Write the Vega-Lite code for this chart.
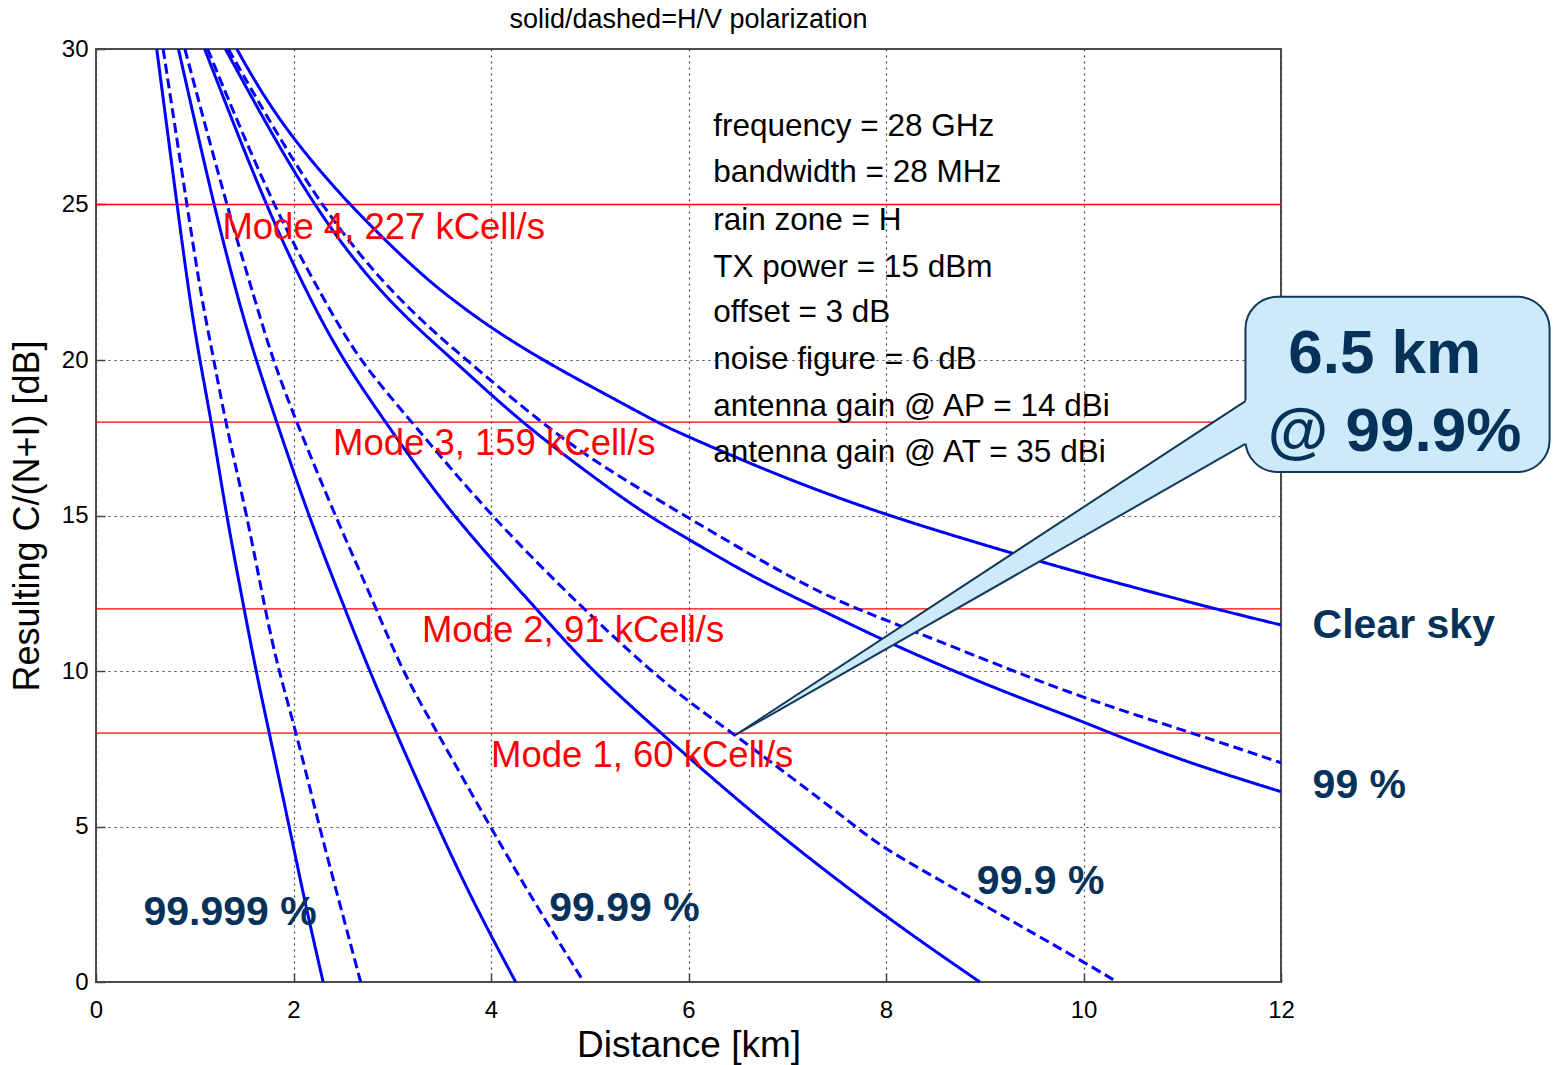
{
  "$schema": "https://vega.github.io/schema/vega-lite/v6.json",
  "width": 1185,
  "height": 933,
  "autosize": {"type": "none"},
  "padding": {"left": 96, "top": 49, "right": 278, "bottom": 83},
  "background": "#ffffff",
  "config": {"view": {"stroke": "#4d4d4d", "strokeWidth": 2}, "font": "Liberation Sans"},
  "title": {"text": "solid/dashed=H/V polarization", "font": "Liberation Sans", "fontSize": 27, "fontWeight": "normal", "color": "#000000", "offset": 3, "anchor": "middle"},
  "datasets": {
    "curves": [
      {"s": "clear", "p": "H", "x": 1.425, "y": 30}, {"s": "clear", "p": "H", "x": 1.66, "y": 28.68}, {"s": "clear", "p": "H", "x": 1.995, "y": 27.1}, {"s": "clear", "p": "H", "x": 2.555, "y": 25}, {"s": "clear", "p": "H", "x": 3.28, "y": 22.77}, {"s": "clear", "p": "H", "x": 3.62, "y": 21.92}, {"s": "clear", "p": "H", "x": 3.99, "y": 21.05}, {"s": "clear", "p": "H", "x": 4.53, "y": 19.98}, {"s": "clear", "p": "H", "x": 5.10, "y": 19.0}, {"s": "clear", "p": "H", "x": 5.70, "y": 17.97}, {"s": "clear", "p": "H", "x": 5.91, "y": 17.65}, {"s": "clear", "p": "H", "x": 6.93, "y": 16.25}, {"s": "clear", "p": "H", "x": 7.94, "y": 15.07}, {"s": "clear", "p": "H", "x": 9.05, "y": 14.0}, {"s": "clear", "p": "H", "x": 9.96, "y": 13.15}, {"s": "clear", "p": "H", "x": 11.35, "y": 11.98}, {"s": "clear", "p": "H", "x": 12, "y": 11.48},
      {"s": "99H", "p": "H", "x": 1.31, "y": 30}, {"s": "99H", "p": "H", "x": 2.17, "y": 25}, {"s": "99H", "p": "H", "x": 2.93, "y": 21.93}, {"s": "99H", "p": "H", "x": 3.62, "y": 20}, {"s": "99H", "p": "H", "x": 4.3, "y": 18}, {"s": "99H", "p": "H", "x": 5.1, "y": 16.09}, {"s": "99H", "p": "H", "x": 5.56, "y": 15.05}, {"s": "99H", "p": "H", "x": 6.02, "y": 14.2}, {"s": "99H", "p": "H", "x": 6.69, "y": 12.95}, {"s": "99H", "p": "H", "x": 7.32, "y": 12}, {"s": "99H", "p": "H", "x": 8.0, "y": 10.94}, {"s": "99H", "p": "H", "x": 9.05, "y": 9.5}, {"s": "99H", "p": "H", "x": 10.0, "y": 8.37}, {"s": "99H", "p": "H", "x": 10.27, "y": 8}, {"s": "99H", "p": "H", "x": 11.08, "y": 7.03}, {"s": "99H", "p": "H", "x": 12, "y": 6.12},
      {"s": "99V", "p": "V", "x": 1.34, "y": 30}, {"s": "99V", "p": "V", "x": 2.24, "y": 25}, {"s": "99V", "p": "V", "x": 3.05, "y": 21.93}, {"s": "99V", "p": "V", "x": 3.75, "y": 20}, {"s": "99V", "p": "V", "x": 4.5, "y": 18}, {"s": "99V", "p": "V", "x": 5.1, "y": 16.62}, {"s": "99V", "p": "V", "x": 5.96, "y": 15}, {"s": "99V", "p": "V", "x": 7.06, "y": 12.93}, {"s": "99V", "p": "V", "x": 7.70, "y": 12}, {"s": "99V", "p": "V", "x": 8.0, "y": 11.64}, {"s": "99V", "p": "V", "x": 9.05, "y": 10.3}, {"s": "99V", "p": "V", "x": 10.0, "y": 9.12}, {"s": "99V", "p": "V", "x": 11.11, "y": 8}, {"s": "99V", "p": "V", "x": 12, "y": 7.05},
      {"s": "999H", "p": "H", "x": 1.10, "y": 30}, {"s": "999H", "p": "H", "x": 1.71, "y": 25}, {"s": "999H", "p": "H", "x": 2.17, "y": 21.93}, {"s": "999H", "p": "H", "x": 2.50, "y": 20}, {"s": "999H", "p": "H", "x": 2.93, "y": 18}, {"s": "999H", "p": "H", "x": 3.60, "y": 15}, {"s": "999H", "p": "H", "x": 4.46, "y": 12}, {"s": "999H", "p": "H", "x": 5.02, "y": 10}, {"s": "999H", "p": "H", "x": 5.72, "y": 8}, {"s": "999H", "p": "H", "x": 6.80, "y": 5}, {"s": "999H", "p": "H", "x": 7.99, "y": 2.1}, {"s": "999H", "p": "H", "x": 8.95, "y": 0},
      {"s": "999V", "p": "V", "x": 1.13, "y": 30}, {"s": "999V", "p": "V", "x": 1.78, "y": 25}, {"s": "999V", "p": "V", "x": 2.31, "y": 21.93}, {"s": "999V", "p": "V", "x": 2.66, "y": 20}, {"s": "999V", "p": "V", "x": 3.20, "y": 18}, {"s": "999V", "p": "V", "x": 3.99, "y": 15}, {"s": "999V", "p": "V", "x": 4.93, "y": 12}, {"s": "999V", "p": "V", "x": 5.62, "y": 10}, {"s": "999V", "p": "V", "x": 6.02, "y": 8.96}, {"s": "999V", "p": "V", "x": 6.45, "y": 8}, {"s": "999V", "p": "V", "x": 7.70, "y": 5}, {"s": "999V", "p": "V", "x": 7.94, "y": 4.35}, {"s": "999V", "p": "V", "x": 9.05, "y": 2.37}, {"s": "999V", "p": "V", "x": 10.0, "y": 0.65}, {"s": "999V", "p": "V", "x": 10.34, "y": 0},
      {"s": "9999H", "p": "H", "x": 0.835, "y": 30}, {"s": "9999H", "p": "H", "x": 1.19, "y": 25}, {"s": "9999H", "p": "H", "x": 1.44, "y": 21.93}, {"s": "9999H", "p": "H", "x": 1.62, "y": 20}, {"s": "9999H", "p": "H", "x": 1.83, "y": 18}, {"s": "9999H", "p": "H", "x": 2.15, "y": 15}, {"s": "9999H", "p": "H", "x": 2.52, "y": 12}, {"s": "9999H", "p": "H", "x": 2.77, "y": 10}, {"s": "9999H", "p": "H", "x": 3.04, "y": 8}, {"s": "9999H", "p": "H", "x": 3.46, "y": 5}, {"s": "9999H", "p": "H", "x": 3.83, "y": 2.5}, {"s": "9999H", "p": "H", "x": 4.25, "y": 0},
      {"s": "9999V", "p": "V", "x": 0.90, "y": 30}, {"s": "9999V", "p": "V", "x": 1.32, "y": 25}, {"s": "9999V", "p": "V", "x": 1.61, "y": 21.93}, {"s": "9999V", "p": "V", "x": 1.79, "y": 20}, {"s": "9999V", "p": "V", "x": 2.03, "y": 18}, {"s": "9999V", "p": "V", "x": 2.42, "y": 15}, {"s": "9999V", "p": "V", "x": 2.84, "y": 12}, {"s": "9999V", "p": "V", "x": 3.10, "y": 10}, {"s": "9999V", "p": "V", "x": 3.46, "y": 8}, {"s": "9999V", "p": "V", "x": 3.99, "y": 5}, {"s": "9999V", "p": "V", "x": 4.45, "y": 2.5}, {"s": "9999V", "p": "V", "x": 4.94, "y": 0},
      {"s": "99999H", "p": "H", "x": 0.615, "y": 30}, {"s": "99999H", "p": "H", "x": 0.82, "y": 25}, {"s": "99999H", "p": "H", "x": 0.95, "y": 21.93}, {"s": "99999H", "p": "H", "x": 1.05, "y": 20}, {"s": "99999H", "p": "H", "x": 1.17, "y": 18}, {"s": "99999H", "p": "H", "x": 1.32, "y": 15}, {"s": "99999H", "p": "H", "x": 1.50, "y": 12}, {"s": "99999H", "p": "H", "x": 1.62, "y": 10}, {"s": "99999H", "p": "H", "x": 1.755, "y": 8}, {"s": "99999H", "p": "H", "x": 1.957, "y": 5}, {"s": "99999H", "p": "H", "x": 2.12, "y": 2.5}, {"s": "99999H", "p": "H", "x": 2.30, "y": 0},
      {"s": "99999V", "p": "V", "x": 0.68, "y": 30}, {"s": "99999V", "p": "V", "x": 0.92, "y": 25}, {"s": "99999V", "p": "V", "x": 1.07, "y": 21.93}, {"s": "99999V", "p": "V", "x": 1.195, "y": 20}, {"s": "99999V", "p": "V", "x": 1.31, "y": 18}, {"s": "99999V", "p": "V", "x": 1.53, "y": 15}, {"s": "99999V", "p": "V", "x": 1.71, "y": 12}, {"s": "99999V", "p": "V", "x": 1.85, "y": 10}, {"s": "99999V", "p": "V", "x": 2.03, "y": 8}, {"s": "99999V", "p": "V", "x": 2.26, "y": 5}, {"s": "99999V", "p": "V", "x": 2.47, "y": 2.5}, {"s": "99999V", "p": "V", "x": 2.68, "y": 0}
    ],
    "modes": [{"y": 25}, {"y": 18}, {"y": 12}, {"y": 8}],
    "modeText": [
      {"x": 1.28, "y": 24.24, "t": "Mode 4, 227 kCell/s"},
      {"x": 2.40, "y": 17.3, "t": "Mode 3, 159 kCell/s"},
      {"x": 3.30, "y": 11.29, "t": "Mode 2, 91 kCell/s"},
      {"x": 4.00, "y": 7.28, "t": "Mode 1, 60 kCell/s"}
    ],
    "params": [
      {"x": 6.25, "y": 27.48, "t": "frequency = 28 GHz"},
      {"x": 6.25, "y": 26.0, "t": "bandwidth = 28 MHz"},
      {"x": 6.25, "y": 24.48, "t": "rain zone = H"},
      {"x": 6.25, "y": 22.97, "t": "TX power = 15 dBm"},
      {"x": 6.25, "y": 21.5, "t": "offset = 3 dB"},
      {"x": 6.25, "y": 20.0, "t": "noise figure = 6 dB"},
      {"x": 6.25, "y": 18.5, "t": "antenna gain @ AP = 14 dBi"},
      {"x": 6.25, "y": 17.0, "t": "antenna gain @ AT = 35 dBi"}
    ],
    "labels": [
      {"x": 0.48, "y": 2.23, "t": "99.999 %"},
      {"x": 4.59, "y": 2.35, "t": "99.99 %"},
      {"x": 8.92, "y": 3.22, "t": "99.9 %"},
      {"x": 12.32, "y": 11.45, "t": "Clear sky"},
      {"x": 12.32, "y": 6.3, "t": "99 %"}
    ],
    "box": [{"x": 11.64, "x2": 14.72, "y": 22.03, "y2": 16.40}],
    "wedge": [{"x": 6.48, "y": 7.95, "y2": 7.95}, {"x": 11.78, "y": 18.97, "y2": 17.55}],
    "edges": [{"x": 6.48, "y": 7.95, "x2": 11.64, "y2": 18.68}, {"x": 6.48, "y": 7.95, "x2": 11.64, "y2": 17.30}],
    "callText": [{"x": 13.05, "y": 20.2, "t": "6.5 km"}, {"x": 13.15, "y": 17.7, "t": "@ 99.9%"}]
  },
  "layer": [
    {
      "data": {"name": "modes"},
      "mark": {"type": "rule", "color": "#ff0000", "strokeWidth": 1.3},
      "encoding": {
        "y": {"field": "y", "type": "quantitative", "scale": {"domain": [0, 30], "nice": false}}
      }
    },
    {
      "data": {"name": "curves"},
      "mark": {"type": "line", "color": "#0000ff", "strokeWidth": 3, "interpolate": "basis"},
      "encoding": {
        "x": {"field": "x", "type": "quantitative", "scale": {"domain": [0, 12], "nice": false},
          "axis": {"values": [0, 2, 4, 6, 8, 10, 12], "format": "d", "title": "Distance [km]", "titleFont": "Liberation Sans", "titleFontSize": 37, "titleFontWeight": "normal", "titleColor": "#000000", "titlePadding": 5, "labelFont": "Liberation Sans", "labelFontSize": 24, "labelColor": "#000000", "labelPadding": 25, "labelFlush": false, "labelOverlap": false, "grid": true, "gridColor": "#444444", "gridDash": [2, 4], "gridWidth": 1.2, "ticks": true, "tickSize": -9, "tickColor": "#444444", "tickWidth": 1.5, "domain": false}},
        "y": {"field": "y", "type": "quantitative", "scale": {"domain": [0, 30], "nice": false},
          "axis": {"values": [0, 5, 10, 15, 20, 25, 30], "format": "d", "title": "Resulting C/(N+I) [dB]", "titleFont": "Liberation Sans", "titleFontSize": 36, "titleFontWeight": "normal", "titleColor": "#000000", "titlePadding": 15, "labelFont": "Liberation Sans", "labelFontSize": 24, "labelColor": "#000000", "labelPadding": 17, "labelFlush": false, "labelOverlap": false, "grid": true, "gridColor": "#444444", "gridDash": [2, 4], "gridWidth": 1.2, "ticks": true, "tickSize": -9, "tickColor": "#444444", "tickWidth": 1.5, "domain": false}},
        "detail": {"field": "s", "type": "nominal"},
        "strokeDash": {"field": "p", "type": "nominal", "scale": {"domain": ["H", "V"], "range": [[1, 0], [10, 5]]}, "legend": null}
      }
    },
    {
      "data": {"name": "modeText"},
      "mark": {"type": "text", "color": "#ff0000", "font": "Liberation Sans", "fontSize": 36.5, "align": "left", "baseline": "middle"},
      "encoding": {
        "x": {"field": "x", "type": "quantitative", "scale": {"domain": [0, 12], "nice": false}},
        "y": {"field": "y", "type": "quantitative", "scale": {"domain": [0, 30], "nice": false}},
        "text": {"field": "t"}
      }
    },
    {
      "data": {"name": "params"},
      "mark": {"type": "text", "color": "#000000", "font": "Liberation Sans", "fontSize": 31.5, "align": "left", "baseline": "middle"},
      "encoding": {
        "x": {"field": "x", "type": "quantitative", "scale": {"domain": [0, 12], "nice": false}},
        "y": {"field": "y", "type": "quantitative", "scale": {"domain": [0, 30], "nice": false}},
        "text": {"field": "t"}
      }
    },
    {
      "data": {"name": "labels"},
      "mark": {"type": "text", "color": "#06325a", "font": "Liberation Sans", "fontWeight": "bold", "fontSize": 41, "align": "left", "baseline": "middle"},
      "encoding": {
        "x": {"field": "x", "type": "quantitative", "scale": {"domain": [0, 12], "nice": false}},
        "y": {"field": "y", "type": "quantitative", "scale": {"domain": [0, 30], "nice": false}},
        "text": {"field": "t"}
      }
    },
    {
      "data": {"name": "box"},
      "mark": {"type": "rect", "fill": "#cdeafa", "stroke": "#12395a", "strokeWidth": 2, "cornerRadius": 32},
      "encoding": {
        "x": {"field": "x", "type": "quantitative", "scale": {"domain": [0, 12], "nice": false}},
        "x2": {"field": "x2"},
        "y": {"field": "y", "type": "quantitative", "scale": {"domain": [0, 30], "nice": false}},
        "y2": {"field": "y2"}
      }
    },
    {
      "data": {"name": "wedge"},
      "mark": {"type": "area", "color": "#cdeafa", "opacity": 1, "interpolate": "linear"},
      "encoding": {
        "x": {"field": "x", "type": "quantitative", "scale": {"domain": [0, 12], "nice": false}},
        "y": {"field": "y", "type": "quantitative", "scale": {"domain": [0, 30], "nice": false}},
        "y2": {"field": "y2"}
      }
    },
    {
      "data": {"name": "edges"},
      "mark": {"type": "rule", "color": "#12395a", "strokeWidth": 2},
      "encoding": {
        "x": {"field": "x", "type": "quantitative", "scale": {"domain": [0, 12], "nice": false}},
        "x2": {"field": "x2"},
        "y": {"field": "y", "type": "quantitative", "scale": {"domain": [0, 30], "nice": false}},
        "y2": {"field": "y2"}
      }
    },
    {
      "data": {"name": "callText"},
      "mark": {"type": "text", "color": "#06325a", "font": "Liberation Sans", "fontWeight": "bold", "fontSize": 62, "align": "center", "baseline": "middle"},
      "encoding": {
        "x": {"field": "x", "type": "quantitative", "scale": {"domain": [0, 12], "nice": false}},
        "y": {"field": "y", "type": "quantitative", "scale": {"domain": [0, 30], "nice": false}},
        "text": {"field": "t"}
      }
    }
  ]
}
